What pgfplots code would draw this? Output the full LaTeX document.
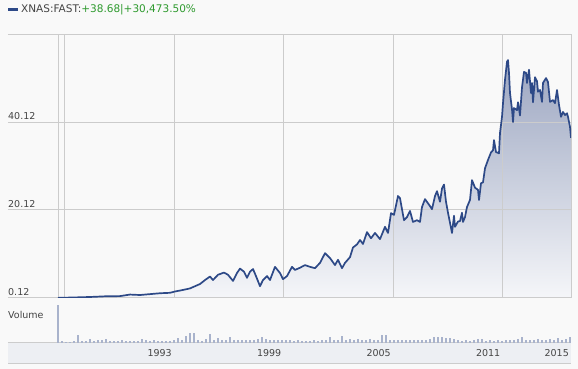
\documentclass[border=0pt]{standalone}
\usepackage{fontspec}
\setmainfont{DejaVu Sans}
\usepackage{pgfplots}
\usepackage{pgfplotstable}
\pgfplotsset{compat=1.18}
\definecolor{bg}{HTML}{F9F9F9}
\definecolor{gridc}{HTML}{CCCCCC}
\definecolor{navy}{HTML}{2D4987}
\definecolor{volc}{HTML}{A9B3CC}
\definecolor{band}{HTML}{EDEFF3}
\definecolor{txt}{HTML}{444444}
\definecolor{grn}{HTML}{2E9A2E}
\definecolor{shadetop}{HTML}{9CA6C1}
\definecolor{shadebot}{HTML}{F5F6F9}

\pgfplotstableread{
yr price
1986.644 0.15
1987.576 0.25
1988.397 0.35
1989.219 0.5
1990.041 0.55
1990.589 0.9
1991.137 0.8
1991.685 1.0
1992.233 1.2
1992.781 1.3
1993.055 1.6
1993.438 1.9
1993.877 2.3
1994.151 2.8
1994.425 3.3
1994.699 4.2
1994.973 5.0
1995.137 4.2
1995.411 5.4
1995.740 5.9
1995.959 5.4
1996.233 4.0
1996.452 5.8
1996.616 6.8
1996.836 6.1
1997.000 4.7
1997.164 6.1
1997.329 6.7
1997.493 5.1
1997.712 2.8
1997.877 4.2
1998.096 5.1
1998.260 4.2
1998.534 7.2
1998.808 5.8
1998.973 4.4
1999.192 5.1
1999.466 7.2
1999.630 6.5
1999.904 7.0
2000.178 7.6
2000.452 7.2
2000.726 6.9
2001.000 8.1
2001.274 10.3
2001.548 9.2
2001.822 7.6
2001.987 8.8
2002.206 6.9
2002.370 8.1
2002.644 9.4
2002.808 11.6
2003.028 12.3
2003.192 13.3
2003.356 12.4
2003.576 15.1
2003.795 13.7
2004.014 14.9
2004.288 13.5
2004.562 16.3
2004.726 14.9
2004.891 19.4
2005.055 19.0
2005.274 23.3
2005.384 22.8
2005.603 17.8
2005.767 18.5
2005.932 19.9
2006.096 17.4
2006.315 17.8
2006.480 17.4
2006.589 20.8
2006.754 22.6
2007.028 21.0
2007.137 20.3
2007.302 23.3
2007.411 24.4
2007.576 22.0
2007.685 25.0
2007.795 25.9
2007.904 22.0
2008.014 19.5
2008.233 14.9
2008.343 18.8
2008.398 16.3
2008.562 17.5
2008.671 17.6
2008.781 19.5
2008.836 17.4
2008.945 18.5
2009.055 20.8
2009.219 22.4
2009.329 26.9
2009.493 25.2
2009.658 24.7
2009.713 22.4
2009.822 26.2
2009.932 26.4
2010.041 29.6
2010.206 31.5
2010.370 33.2
2010.480 33.7
2010.534 36.0
2010.644 33.3
2010.808 33.0
2010.863 37.6
2010.973 41.3
2011.028 44.4
2011.137 49.7
2011.247 53.8
2011.302 54.2
2011.356 51.3
2011.411 46.7
2011.521 43.0
2011.576 40.1
2011.630 43.3
2011.795 42.8
2011.850 44.6
2011.959 41.6
2012.069 48.0
2012.178 51.5
2012.288 51.3
2012.343 49.0
2012.452 52.0
2012.562 46.7
2012.617 49.0
2012.671 44.6
2012.781 50.3
2012.891 49.4
2012.945 47.0
2013.055 47.4
2013.165 44.7
2013.219 49.0
2013.384 50.1
2013.493 49.2
2013.603 44.7
2013.767 45.1
2013.877 44.4
2013.987 47.4
2014.096 44.0
2014.206 41.3
2014.315 42.4
2014.425 41.7
2014.534 42.1
2014.589 41.3
2014.699 39.0
2014.754 36.5
}\pricedata

\pgfplotstableread{
v
39
2
1.5
1.5
2
8
2
2
4
2
3
3
4
2
2
2.5
3
2
2
2.5
2
4
3.5
2
3
2
2
2.5
2
3
5
3
7
10
10
3
2.5
4
9
3
5
3
3
6
3
3.5
3
3
3
3.5
4
6
4
3
3
3.5
3
3
3.5
2.5
3
2.5
2
2.5
3
2.5
3
3
6
3.5
3
7
3
4
3
4
3
3.5
4
3
3
8
8
3.5
3
3
3
3.5
3
3
3
3.5
3
4
6
6
6
5.5
5
4.5
3
2.5
3
2.5
3
4
4
2.5
3
2.5
3
2.5
3
3
3
4
6
3
3.5
3
4
3.5
3
4
3.5
5
3.5
4
6
}\voldata

\begin{document}
\begin{tikzpicture}[x=1pt,y=1pt]
\path[use as bounding box, fill=bg] (0pt,0pt) rectangle (578pt,369pt);
\fill[band] (8pt,5pt) rectangle (571pt,26pt);
\draw[gridc, line width=1pt] (8pt,5pt) -- (571pt,5pt);
\draw[navy, line width=3pt] (8pt,359pt) -- (18pt,359pt);
\node[anchor=west, inner sep=0pt, font=\fontsize{10.5}{12}\selectfont] at (21pt,359pt) {\textcolor{txt}{XNAS:FAST:}\textcolor{grn}{+38.68|+30,473.50\%}};
\node[anchor=west, inner sep=0pt, font=\fontsize{9.5}{11}\selectfont, text=txt] at (8pt,54pt) {Volume};

% fill under the price line
\begin{axis}[at={(8pt,71pt)}, anchor=south west, scale only axis,
  width=563pt, height=264pt,
  xmin=1983.904, xmax=2014.754, ymin=0.12, ymax=60.12,
  hide axis]
\addplot[draw=none, top color=shadetop, bottom color=shadebot] table[x=yr,y=price]{\pricedata} \closedcycle;
\end{axis}

% grid and price line
\begin{axis}[at={(8pt,71pt)}, anchor=south west, scale only axis,
  width=563pt, height=264pt,
  xmin=1983.904, xmax=2014.754, ymin=0.12, ymax=60.12,
  axis line style={draw=none}, major tick length=0pt,
  xtick={1986.644,1986.973,1993,1999,2005,2011,2014.754}, xticklabels={},
  ytick={0.12,20.12,40.12,60.12}, yticklabels={0.12,20.12,40.12,},
  xmajorgrids, ymajorgrids, grid style={gridc, line width=1pt},
  /pgf/number format/assume math mode=true,
  yticklabel style={anchor=south west, inner sep=0pt, yshift=2pt, font=\fontsize{9.5}{11}\selectfont, text=txt}]
\addplot[navy, line width=1.7pt, line join=round] table[x=yr,y=price]{\pricedata};
\end{axis}

% volume
\begin{axis}[at={(8pt,26pt)}, anchor=south west, scale only axis,
  width=563pt, height=44pt,
  xmin=1983.904, xmax=2014.754, ymin=0, ymax=45,
  axis line style={draw=none}, major tick length=0pt,
  ytick={0}, yticklabels={}, ymajorgrids, grid style={gridc, line width=1pt},
  xtick={1993,1999,2005,2011,2014.754}, xticklabels={1993,1999,2005,2011,2015},
  /pgf/number format/assume math mode=true,
  xticklabel style={anchor=east, inner sep=0pt, xshift=-2pt, yshift=-10pt, font=\fontsize{9.5}{11}\selectfont, text=txt}]
\addplot[ycomb, volc, line width=2.4pt] table[x expr={1986.644+0.21918*\coordindex}, y=v]{\voldata};
\end{axis}
\end{tikzpicture}
\end{document}
